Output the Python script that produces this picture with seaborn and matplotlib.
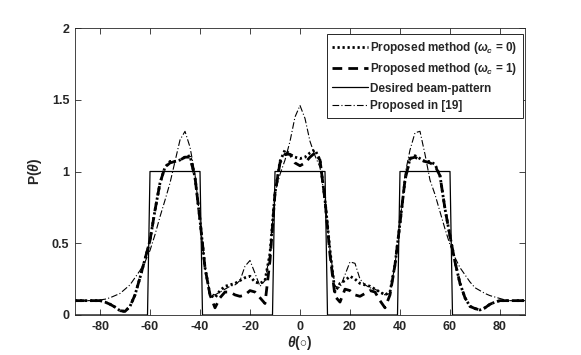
import matplotlib
matplotlib.use("Agg")
import matplotlib.pyplot as plt
import numpy as np
import pandas as pd
import seaborn as sns

# 角度采样点（度）
theta = list(range(-90, 91, 2))

# Proposed method (wc = 0)，点线
p_wc0 = [
    0.10, 0.10, 0.10, 0.10, 0.10, 0.10, 0.09, 0.075, 0.055, 0.03,
    0.025, 0.06, 0.14, 0.26, 0.39, 0.52, 0.73, 0.92, 1.03, 1.07,
    1.07, 1.08, 1.10, 1.11, 0.96, 0.66, 0.33, 0.14, 0.12, 0.17,
    0.20, 0.21, 0.22, 0.24, 0.26, 0.27, 0.23, 0.22, 0.24, 0.43,
    0.85, 1.07, 1.15, 1.12, 1.10, 1.09, 1.10, 1.13, 1.15, 1.08,
    0.80, 0.45, 0.16, 0.22, 0.24, 0.27, 0.25, 0.22, 0.21, 0.20,
    0.18, 0.16, 0.14, 0.16, 0.35, 0.64, 0.94, 1.09, 1.11, 1.09,
    1.07, 1.07, 1.05, 0.97, 0.74, 0.55, 0.37, 0.22, 0.12, 0.06,
    0.045, 0.035, 0.05, 0.075, 0.09, 0.10, 0.10, 0.10, 0.10, 0.10,
    0.10,
]

# Proposed method (wc = 1)，虚线
p_wc1 = [
    0.10, 0.10, 0.10, 0.10, 0.10, 0.10, 0.09, 0.075, 0.055, 0.03,
    0.025, 0.06, 0.14, 0.26, 0.39, 0.52, 0.73, 0.92, 1.03, 1.06,
    1.07, 1.08, 1.10, 1.10, 0.96, 0.66, 0.33, 0.14, 0.05, 0.12,
    0.16, 0.16, 0.14, 0.13, 0.14, 0.17, 0.16, 0.12, 0.08, 0.38,
    0.85, 1.06, 1.12, 1.12, 1.06, 1.04, 1.06, 1.10, 1.13, 1.08,
    0.80, 0.42, 0.13, 0.09, 0.18, 0.17, 0.14, 0.13, 0.15, 0.17,
    0.16, 0.10, 0.05, 0.14, 0.35, 0.64, 0.94, 1.09, 1.10, 1.08,
    1.07, 1.06, 1.04, 0.97, 0.74, 0.55, 0.37, 0.22, 0.12, 0.06,
    0.045, 0.035, 0.05, 0.075, 0.09, 0.10, 0.10, 0.10, 0.10, 0.10,
    0.10,
]

# Proposed in [19]，点划线
p_ref19 = [
    0.10, 0.10, 0.10, 0.10, 0.10, 0.105, 0.11, 0.12, 0.135, 0.15,
    0.18, 0.21, 0.26, 0.31, 0.37, 0.45, 0.56, 0.685, 0.80, 0.92,
    1.07, 1.22, 1.28, 1.17, 0.98, 0.66, 0.33, 0.15, 0.14, 0.16,
    0.18, 0.20, 0.21, 0.24, 0.34, 0.38, 0.29, 0.20, 0.24, 0.43,
    0.85, 0.98, 1.08, 1.21, 1.38, 1.46, 1.37, 1.21, 1.11, 1.03,
    0.80, 0.45, 0.20, 0.19, 0.28, 0.37, 0.36, 0.25, 0.21, 0.19,
    0.18, 0.16, 0.14, 0.15, 0.35, 0.64, 0.98, 1.15, 1.27, 1.28,
    1.12, 0.94, 0.84, 0.72, 0.60, 0.49, 0.40, 0.33, 0.28, 0.23,
    0.19, 0.17, 0.15, 0.135, 0.125, 0.115, 0.105, 0.10, 0.10, 0.10,
    0.10,
]

# 期望波束图（矩形）
desired_theta = [-90, -61, -60, -40, -39, -11, -10, 10, 11, 39, 40, 60, 61, 90]
desired_val = [0, 0, 1, 1, 0, 0, 1, 1, 0, 0, 1, 1, 0, 0]

x_ticks = [-80, -60, -40, -20, 0, 20, 40, 60, 80]
y_ticks = [0, 0.5, 1, 1.5, 2]
y_tick_labels = ["0", "0.5", "1", "1.5", "2"]

labels = [
    r"Proposed method ($\omega_c$ = 0)",
    r"Proposed method ($\omega_c$ = 1)",
    "Desired beam-pattern",
    "Proposed in [19]",
]

sns.set_theme(style="ticks")
plt.rcParams["font.family"] = ["Liberation Sans", "DejaVu Sans"]
plt.rcParams["font.weight"] = "bold"
plt.rcParams["axes.unicode_minus"] = False
plt.rcParams["mathtext.fontset"] = "custom"
plt.rcParams["mathtext.rm"] = "Liberation Sans:bold"
plt.rcParams["mathtext.it"] = "Liberation Sans:italic:bold"
plt.rcParams["mathtext.bf"] = "Liberation Sans:bold"

df = pd.DataFrame({"theta": theta, "wc0": p_wc0, "wc1": p_wc1, "ref19": p_ref19})
df_des = pd.DataFrame({"theta": desired_theta, "val": desired_val})

fig = plt.figure(figsize=(5.81, 3.55), dpi=100)
ax = fig.add_axes([0.1291, 0.1127, 0.9036 - 0.1291, 0.9211 - 0.1127])

k = "black"
sns.lineplot(data=df, x="theta", y="wc0", ax=ax, color=k, lw=2.0,
             linestyle=(0, (0.8, 1.0)), label=labels[0], estimator=None, sort=False)
sns.lineplot(data=df, x="theta", y="wc1", ax=ax, color=k, lw=2.0,
             linestyle=(0, (3.5, 2.2)), label=labels[1], estimator=None, sort=False)
sns.lineplot(data=df_des, x="theta", y="val", ax=ax, color=k, lw=0.9,
             label=labels[2], estimator=None, sort=False)
sns.lineplot(data=df, x="theta", y="ref19", ax=ax, color=k, lw=0.8,
             linestyle=(0, (6, 2, 1, 2)), label=labels[3], estimator=None, sort=False)

ax.set_xlim(-90, 90)
ax.set_ylim(0, 2)
ax.set_xticks(x_ticks)
ax.set_xticklabels([str(v) for v in x_ticks])
ax.set_yticks(y_ticks)
ax.set_yticklabels(y_tick_labels)
ax.tick_params(direction="in", top=True, right=True, length=4, width=0.6,
               labelsize=9, colors="#262626", pad=4)
for s in ax.spines.values():
    s.set_color("#262626")
    s.set_linewidth(0.6)

ax.set_xlabel(r"$\theta$($\circ$)", fontsize=10, fontweight="bold", labelpad=1)
ax.set_ylabel(r"P($\theta$)", fontsize=10, fontweight="bold", labelpad=6)

leg = ax.legend(loc="upper right", bbox_to_anchor=(0.996, 0.979), borderaxespad=0,
                fontsize=8.5, frameon=True, fancybox=False, framealpha=1,
                edgecolor="#262626", handlelength=3.0, handletextpad=0.2,
                labelspacing=0.45, borderpad=0.5)
leg.get_frame().set_linewidth(0.7)
for t in leg.get_texts():
    t.set_fontweight("bold")

fig.savefig("out.png", dpi=100)
